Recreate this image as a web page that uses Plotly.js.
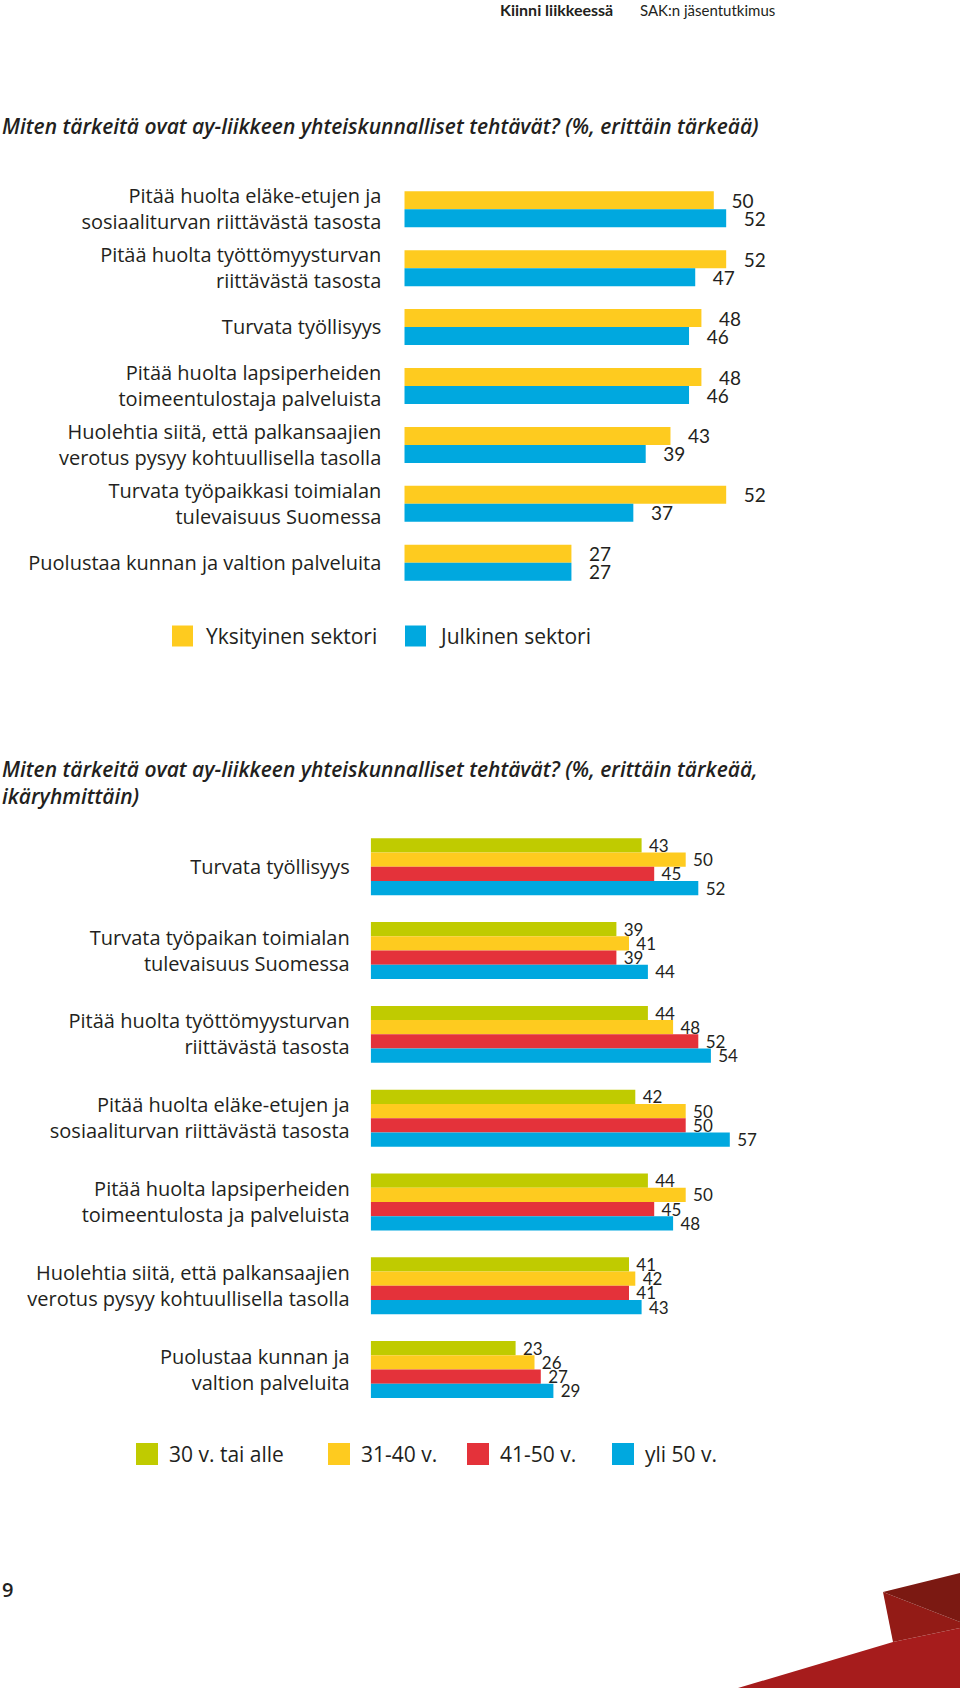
<!DOCTYPE html>
<html><head><meta charset="utf-8">
<script src="https://cdn.plot.ly/plotly-3.0.1.min.js"></script>
<style>html,body{margin:0;padding:0;background:#fff}#chart{width:960px;height:1688px}</style>
</head><body><div id="chart"></div>
<script>
// ---------- Data: chart 1 (by sector) ----------
const sectorCategories = [
  "Pitää huolta eläke-etujen ja<br>sosiaaliturvan riittävästä tasosta",
  "Pitää huolta työttömyysturvan<br>riittävästä tasosta",
  "Turvata työllisyys",
  "Pitää huolta lapsiperheiden<br>toimeentulostaja palveluista",
  "Huolehtia siitä, että palkansaajien<br>verotus pysyy kohtuullisella tasolla",
  "Turvata työpaikkasi toimialan<br>tulevaisuus Suomessa",
  "Puolustaa kunnan ja valtion palveluita"
];
const sectorNames = ["Yksityinen sektori", "Julkinen sektori"];
const privateSector = [50, 52, 48, 48, 43, 52, 27];
const publicSector  = [52, 47, 46, 46, 39, 37, 27];

// ---------- Data: chart 2 (by age group) ----------
const ageCategories = [
  "Turvata työllisyys",
  "Turvata työpaikan toimialan<br>tulevaisuus Suomessa",
  "Pitää huolta työttömyysturvan<br>riittävästä tasosta",
  "Pitää huolta eläke-etujen ja<br>sosiaaliturvan riittävästä tasosta",
  "Pitää huolta lapsiperheiden<br>toimeentulosta ja palveluista",
  "Huolehtia siitä, että palkansaajien<br>verotus pysyy kohtuullisella tasolla",
  "Puolustaa kunnan ja<br>valtion palveluita"
];
const ageNames = ["30 v. tai alle", "31-40 v.", "41-50 v.", "yli 50 v."];
const age30orLess = [43, 39, 44, 42, 44, 41, 23];
const age31to40   = [50, 41, 48, 50, 50, 42, 26];
const age41to50   = [45, 39, 52, 50, 45, 41, 27];
const ageOver50   = [52, 44, 54, 57, 48, 43, 29];

// ---------- Texts ----------
const title1 = "Miten tärkeitä ovat ay-liikkeen yhteiskunnalliset tehtävät? (%, erittäin tärkeää)";
const title2 = "Miten tärkeitä ovat ay-liikkeen yhteiskunnalliset tehtävät? (%, erittäin tärkeää,<br>ikäryhmittäin)";
const headerBold = "Kiinni liikkeessä";
const headerNormal = "SAK:n jäsentutkimus";
const pageNumber = "9";

// ---------- Styling ----------
const W = 960, H = 1688;
const FONT = "'Open Sans', Lato, sans-serif";
const NUMFONT = "Lato, 'Open Sans', sans-serif";
const TXT = "#231f20";
const YELLOW = "#FECB1F", BLUE = "#00A8DF", GREEN = "#C0CB00", RED = "#E4323A";
const sectorColors = [YELLOW, BLUE];
const ageColors = [GREEN, YELLOW, RED, BLUE];
const px = x => x / W;
const py = y => 1 - y / H;

// chart 1 geometry
const c1Start = 404.3, c1Unit = 6.19;
const c1Top = 179.8, c1Bottom = 592.2;
const c1Bar = 0.3055;
// chart 2 geometry
const c2Start = 370.7, c2Unit = 6.30;
const c2Top = 824.9, c2Bottom = 1411.4;
const c2Bar = 0.170;

const traces = [];
[privateSector, publicSector].forEach((vals, i) => {
  traces.push({
    type: "bar", orientation: "h",
    y: sectorCategories, x: vals, name: sectorNames[i],
    xaxis: "x", yaxis: "y",
    width: c1Bar, offset: -c1Bar + i * c1Bar,
    marker: {color: sectorColors[i], line: {width: 0}},
    texttemplate: "\u00a0\u00a0\u00a0%{x}", textposition: "outside",
    textfont: {family: NUMFONT, size: 19, color: TXT},
    constraintext: "none", cliponaxis: false,
    showlegend: false, hoverinfo: "skip"
  });
});
[age30orLess, age31to40, age41to50, ageOver50].forEach((vals, i) => {
  traces.push({
    type: "bar", orientation: "h",
    y: ageCategories, x: vals, name: ageNames[i],
    xaxis: "x2", yaxis: "y2",
    width: c2Bar, offset: -2 * c2Bar + i * c2Bar,
    marker: {color: ageColors[i], line: {width: 0}},
    texttemplate: "\u00a0%{x}", textposition: "outside",
    textfont: {family: NUMFONT, size: 17, color: TXT},
    constraintext: "none", cliponaxis: false,
    showlegend: false, hoverinfo: "skip"
  });
});

const hiddenX = {range: [0, 60], showgrid: false, zeroline: false, showline: false,
  showticklabels: false, ticks: "", fixedrange: true};
const catY = (standoff) => ({
  type: "category", range: [6.5, -0.5], showgrid: false, zeroline: false, showline: false,
  ticks: "", ticklabelstandoff: standoff, automargin: false,
  tickfont: {family: FONT, size: 20, color: TXT}, fixedrange: true
});

const shapes = [];
const annotations = [];

// header
annotations.push({xref: "paper", yref: "paper", x: px(498), y: py(10), xanchor: "left", yanchor: "middle",
  text: "<b>" + headerBold + "</b>", showarrow: false, font: {family: NUMFONT, size: 16, color: TXT}});
annotations.push({xref: "paper", yref: "paper", x: px(638), y: py(10), xanchor: "left", yanchor: "middle",
  text: headerNormal, showarrow: false, font: {family: NUMFONT, size: 15, color: TXT}});
// titles
annotations.push({xref: "paper", yref: "paper", x: 0, y: py(126), xanchor: "left", yanchor: "middle",
  text: title1, showarrow: false, align: "left",
  font: {family: FONT, size: 21, color: TXT, style: "italic", weight: 600}});
annotations.push({xref: "paper", yref: "paper", x: 0, y: py(782), xanchor: "left", yanchor: "middle",
  text: title2, showarrow: false, align: "left",
  font: {family: FONT, size: 21, color: TXT, style: "italic", weight: 600}});

// legends (custom squares)
function legendItem(sqX, txtX, yc, size, color, label) {
  shapes.push({type: "rect", xref: "paper", yref: "paper", x0: px(sqX), x1: px(sqX + size),
    y0: py(yc + size / 2), y1: py(yc - size / 2), fillcolor: color, line: {width: 0}});
  annotations.push({xref: "paper", yref: "paper", x: px(txtX), y: py(yc), xanchor: "left", yanchor: "middle",
    text: label, showarrow: false, font: {family: FONT, size: 21, color: TXT}});
}
const leg1Sq = [172, 405], leg1Tx = [204, 437];
sectorNames.forEach((n, i) => legendItem(leg1Sq[i], leg1Tx[i], 636, 21, sectorColors[i], n));
const leg2Sq = [136, 328, 467, 612], leg2Tx = [167, 359, 498, 643];
ageNames.forEach((n, i) => legendItem(leg2Sq[i], leg2Tx[i], 1454, 22, ageColors[i], n));

// page number
annotations.push({xref: "paper", yref: "paper", x: 0, y: py(1589), xanchor: "left", yanchor: "middle",
  text: pageNumber, showarrow: false, font: {family: FONT, size: 20, color: TXT, weight: 600}});

// corner decoration
function poly(pts, color) {
  const d = pts.map((p, k) => (k ? "L" : "M") + px(p[0]).toFixed(5) + "," + py(p[1]).toFixed(5)).join(" ") + " Z";
  shapes.push({type: "path", xref: "paper", yref: "paper", path: d, fillcolor: color, line: {width: 0}});
}
poly([[738, 1688], [893, 1642], [960, 1628], [960, 1688]], "#A61C1C");
poly([[883, 1592], [960, 1622], [960, 1628], [893, 1642]], "#931B16");
poly([[883, 1592], [960, 1573], [960, 1622]], "#7B1912");

const layout = {
  width: W, height: H, margin: {l: 0, r: 0, t: 0, b: 0},
  paper_bgcolor: "#fff", plot_bgcolor: "rgba(0,0,0,0)",
  barmode: "overlay", showlegend: false,
  xaxis: Object.assign({}, hiddenX, {domain: [px(c1Start), px(c1Start + 60 * c1Unit)], anchor: "y"}),
  yaxis: Object.assign({}, catY(22), {domain: [py(c1Bottom), py(c1Top)], anchor: "x"}),
  xaxis2: Object.assign({}, hiddenX, {domain: [px(c2Start), px(c2Start + 60 * c2Unit)], anchor: "y2"}),
  yaxis2: Object.assign({}, catY(20), {domain: [py(c2Bottom), py(c2Top)], anchor: "x2"}),
  shapes: shapes, annotations: annotations,
  font: {family: FONT, color: TXT}
};

Plotly.newPlot("chart", traces, layout, {staticPlot: true, displayModeBar: false});
</script></body></html>
